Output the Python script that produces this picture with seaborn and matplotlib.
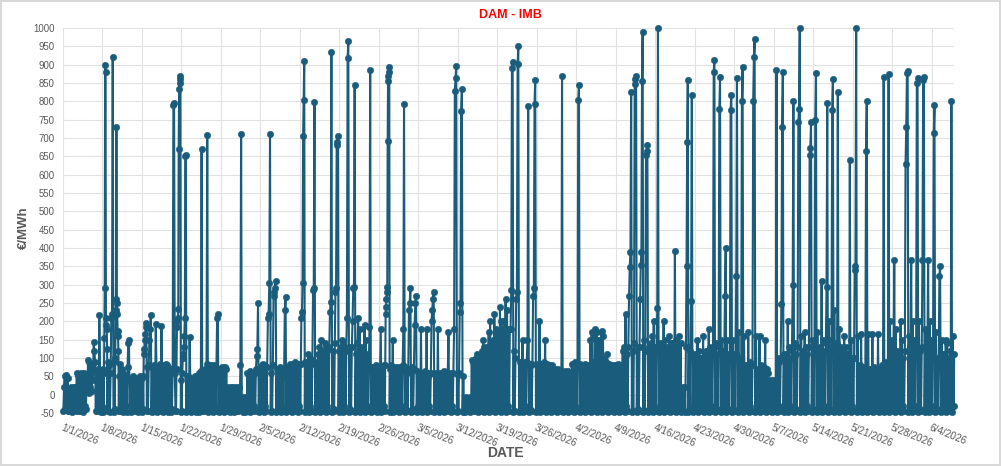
import matplotlib
matplotlib.use("Agg")
import matplotlib.pyplot as plt
import seaborn as sns
import pandas as pd

# ---- data: values within each day (in time order), one string per day ----
wk01 = ["-45 20 50 -40 55 -30 45 -45", "-45 15 -40 20 -48 10 -30 20", "-40 20 -45 60 -30 55 -45 50",
        "-45 60 -40 55 -48 60 -30 50", "-40 50 10 95 5 90 20 80", "10 85 40 145 118 90 -45 60",
        "-45 70 -40 216 60 -48 50 -30"]
wk02 = ["-48 70 -40 60 155 290 900 880 210 190 180 125 -45 90", "-45 80 -48 60 210 220 920 -45",
        "-48 90 -40 100 230 260 730 250 220 175 160 120 -45 50", "-45 85 -30 70 -48 60 -40 50",
        "-45 50 -48 75 141 150 -30 40", "-48 45 -40 50 -45 40 -30 45", "-45 40 -48 45 -40 50 -45 45"]
wk03 = ["-48 50 -40 110 125 150 165 185 195 -45 75", "-45 80 150 178 216 -48 75 -40",
        "-45 80 -30 192 70 -48 75 -40", "-45 85 -30 188 75 -48 80 -40", "-45 85 -40 80 -48 75 -30 70",
        "-48 60 -40 70 790 796 60 -45", "-45 70 185 200 210 235 670 834 850 860 868 -48 40"]
wk04 = ["-45 60 100 110 130 160 208 650 655 -48 50", "-45 50 -40 157 45 -48 40 -30",
        "-45 45 -40 50 -48 40 -30 45", "-48 60 -40 65 670 -45 60 -30", "-45 70 -40 85 709 -48 80 -30",
        "-45 80 -40 75 -48 80 -30 75", "-45 70 210 220 -48 70 -40 65"]
wk05 = ["-45 75 -40 70 -48 75 -30 70", "-45 20 -40 15 -48 20 -30 15", "-45 20 -48 15 -40 20 -45 10",
        "-45 20 -40 80 712 -10 -48 -5", "-45 -10 -48 -5 -40 60 -45 50", "-48 65 -40 60 -45 55 -30 60",
        "-45 70 105 125 250 -48 70 -40"]
wk06 = ["-45 80 -40 85 -48 80 -30 75", "-45 75 210 220 305 711 -48 60", "-45 80 270 280 290 310 -48 70",
        "-45 70 -40 75 -48 70 -30 65", "-45 70 230 267 -48 75 -40 60", "-45 85 -40 80 -48 85 -30 80",
        "-45 90 -40 85 -48 80 -30 85"]
wk07 = ["-45 85 210 225 305 705 805 909 -48 90", "-45 90 -40 110 -48 100 -30 95",
        "-45 85 285 290 798 -48 90 -40", "-45 110 -40 130 -48 150 -30 120",
        "-45 120 -40 140 -48 130 -30 125", "-45 130 225 254 935 -48 120 -40",
        "-45 140 280 290 680 690 705 -48 120"]
wk08 = ["-45 130 -40 150 -48 140 -30 130", "-45 120 210 918 965 -48 130 -40",
        "-45 130 200 290 295 845 -48 110", "-45 140 210 -40 180 -48 130 -30",
        "-45 120 -40 190 -48 150 -30 110", "-45 70 185 885 -48 75 -40 60", "-45 70 -40 80 -48 75 -30 70"]
wk09 = ["-45 75 180 -48 70 -40 80 -30", "-45 80 220 240 260 280 295 691 855 870 880 895 -48 70",
        "-45 80 -40 150 -48 75 -30 70", "-45 75 -40 70 -48 75 -30 65", "-45 80 180 793 -48 75 -40 60",
        "-45 70 230 250 292 -48 75 -40", "-45 70 190 250 270 -48 65 -30"]
wk10 = ["-45 60 -40 180 -48 60 -30 55", "-45 65 -40 180 -48 60 -30 55", "-45 60 200 230 260 279 -48 60",
        "-45 55 -40 180 -48 60 -30 55", "-45 60 -40 65 -48 55 -30 60", "-45 60 170 -40 55 -48 60 -30",
        "-45 60 180 829 864 896 -48 55"]
wk11 = ["-45 60 225 250 775 834 -48 50", "-45 -10 -48 -5 -40 -10 -45 -20", "-48 -5 -40 95 -45 90 -30 80",
        "-45 100 -40 110 -48 105 -30 100", "-45 120 -40 150 -48 130 -30 110",
        "-45 130 -40 170 -48 200 -30 140", "-45 150 -40 220 -48 180 -30 160"]
wk12 = ["-45 170 -40 240 -48 200 -30 180", "-45 200 -40 260 -48 230 -30 180",
        "-45 180 180 286 891 906 -48 120", "-45 100 260 279 903 950 -48 90",
        "-45 90 -40 150 -48 85 -30 90", "-45 90 150 786 -48 85 -40 80", "-45 85 270 290 793 857 -48 80"]
wk13 = ["-45 85 -40 200 -48 80 -30 85", "-45 90 -40 150 -48 85 -30 80", "-45 80 -40 75 -48 80 -30 70",
        "-45 70 -40 65 -48 70 -30 60", "-45 65 -40 868 -48 60 -30 65", "-45 60 -40 65 -48 60 -30 55",
        "-45 85 -40 80 -48 90 -30 75"]
wk14 = ["-45 80 803 845 -48 85 -40 70", "-45 80 -40 85 -48 80 -30 75", "-45 80 -40 150 -48 170 -30 90",
        "-45 160 180 -40 170 -48 150 -30", "-45 150 -40 175 -48 160 -30 100",
        "-45 90 -40 110 -48 85 -30 80", "-45 80 -40 75 -48 80 -30 70"]
wk15 = ["-45 80 -40 85 -48 75 -30 80", "-45 120 -40 130 -48 220 -30 110",
        "-45 130 270 349 390 825 -48 120", "-45 140 848 861 868 -48 130 -40",
        "-45 130 260 355 390 855 989 -48 150", "-45 120 655 664 680 -48 130 -40",
        "-45 140 -40 160 -48 200 -30 130"]
wk16 = ["-45 130 237 1000 -48 140 -40 120", "-45 140 -40 200 -48 150 -30 130",
        "-45 130 -40 160 -48 140 -30 120", "-45 140 -40 393 -48 150 -30 130",
        "-45 160 -40 140 -48 -20 -45 20", "-45 20 -48 130 350 690 859 -48 130",
        "-45 120 256 818 -48 110 -40 100"]
wk17 = ["-45 110 -40 150 -48 120 -30 100", "-45 100 -40 160 -48 110 -30 120",
        "-45 120 -40 180 -48 130 -30 110", "-45 120 880 914 -48 140 -40 110",
        "-45 130 779 866 -48 150 -40 120", "-45 120 268 399 -48 150 -40 110",
        "-45 100 777 818 -48 150 -40 110"]
wk18 = ["-45 110 323 863 -48 170 -40 100", "-45 90 802 895 -48 160 -40 80",
        "-45 80 -40 170 -48 90 -30 80", "-45 80 801 922 971 -48 160 -40",
        "-45 70 -40 160 -48 80 -30 70", "-45 75 -40 150 -48 70 -30 60", "-45 40 -40 35 -48 40 -30 30"]
wk19 = ["-45 40 -40 886 -48 100 -30 90", "-45 100 248 729 879 -48 110 -40",
        "-45 110 -40 200 -48 130 -30 100", "-45 120 300 802 -48 140 -40 110",
        "-45 130 744 779 1000 -48 160 -40", "-45 120 -40 170 -48 130 -30 110",
        "-45 130 653 673 744 -48 150 -40"]
wk20 = ["-45 120 750 877 -48 170 -40 110", "-45 130 -40 309 -48 150 -30 120",
        "-45 140 295 795 -48 200 -40 130", "-45 150 776 861 -48 230 -40 140",
        "-45 140 825 -48 180 -40 130 -30", "-45 120 -40 160 -48 130 -30 110",
        "-45 110 -40 641 -48 150 -30 100"]
wk21 = ["-45 100 341 350 1000 -48 160 -40", "-45 80 -40 165 -48 75 -30 70",
        "-45 70 665 801 -48 165 -40 70", "-45 70 -40 165 -48 75 -30 65",
        "-45 70 -40 165 -48 70 -30 60", "-45 80 -40 866 -48 90 -30 80", "-45 90 875 -48 200 -40 150 -30"]
wk22 = ["-45 100 368 -48 180 -40 120 -30", "-45 110 -40 200 -48 150 -30 100",
        "-45 120 630 729 877 884 -48 160", "-45 130 368 -48 200 -40 150 -30",
        "-45 140 850 864 -48 200 -40 120", "-45 130 368 857 866 -48 180 -40",
        "-45 120 368 -48 200 -40 150 -30"]
wk23 = ["-45 110 714 789 -48 170 -40 100", "-45 100 323 350 -48 150 -40 110",
        "-45 110 -40 150 -48 140 -30 100", "-45 120 -40 801 -48 160 -30 110"]

start_date = "2026-01-01"
tick_labels = ["1/1/2026", "1/8/2026", "1/15/2026", "1/22/2026", "1/29/2026", "2/5/2026",
               "2/12/2026", "2/19/2026", "2/26/2026", "3/5/2026", "3/12/2026", "3/19/2026",
               "3/26/2026", "4/2/2026", "4/9/2026", "4/16/2026", "4/23/2026", "4/30/2026",
               "5/7/2026", "5/14/2026", "5/21/2026", "5/28/2026", "6/4/2026"]
y_ticks = list(range(-50, 1001, 50))

# ---- build table ----
weeks = [wk01, wk02, wk03, wk04, wk05, wk06, wk07, wk08, wk09, wk10, wk11, wk12,
         wk13, wk14, wk15, wk16, wk17, wk18, wk19, wk20, wk21, wk22, wk23]
days = [d for w in weeks for d in w]
t0 = pd.Timestamp(start_date)
rows = []
for di, s in enumerate(days):
    vals = [float(v) for v in s.split()]
    n = len(vals)
    for i, v in enumerate(vals):
        rows.append((t0 + pd.Timedelta(days=di + (i + 0.5) / n), v))
df = pd.DataFrame(rows, columns=["DATE", "value"])

# ---- plot ----
sns.set_theme(style="white")
plt.rcParams["font.family"] = ["Liberation Sans", "DejaVu Sans"]

color = "#195c7c"
grey = "#595959"
fig = plt.figure(figsize=(10.01, 4.66), dpi=100, linewidth=1.5, edgecolor="#d9d9d9")
fig.patch.set_facecolor("white")
ax = fig.add_axes([63 / 1001, 1 - 413 / 466, 891 / 1001, 385 / 466])

sns.lineplot(data=df, x="DATE", y="value", ax=ax, sort=False, estimator=None,
             color=color, linewidth=1.5, marker="o", markersize=4.6,
             markeredgewidth=0.4, markeredgecolor=color, clip_on=False, zorder=3)

ax.set_ylim(-50, 1000)
ax.set_xlim(t0, t0 + pd.Timedelta(days=157.9))
ax.set_yticks(y_ticks)
ax.set_yticklabels([str(v) for v in y_ticks], fontsize=6.9, color=grey)
tick_pos = pd.to_datetime(tick_labels, format="%m/%d/%Y")
ax.set_xticks(tick_pos)
ax.set_xticklabels(tick_labels, fontsize=7.2, color=grey, rotation=-22,
                   ha="left", va="top", rotation_mode="anchor")
ax.tick_params(axis="both", length=0)
ax.tick_params(axis="x", pad=7)
ax.tick_params(axis="y", pad=6)
ax.grid(True, color="#e2e2e2", linewidth=0.8, zorder=0)
for sp in ax.spines.values():
    sp.set_visible(False)
ax.set_xlabel("")
ax.set_ylabel("")

fig.text(510 / 1001, 1 - 15 / 466, "DAM - IMB", color="#ff0000", fontsize=9,
         fontweight="bold", ha="center", va="center")
fig.text(24 / 1001, 1 - 228 / 466, "€/MWh", color=grey, fontsize=9.5,
         fontweight="bold", ha="center", va="center", rotation=90)
fig.text(505 / 1001, 1 - 453 / 466, "DATE", color=grey, fontsize=10,
         fontweight="bold", ha="center", va="center")

fig.savefig("out.png", dpi=100)
